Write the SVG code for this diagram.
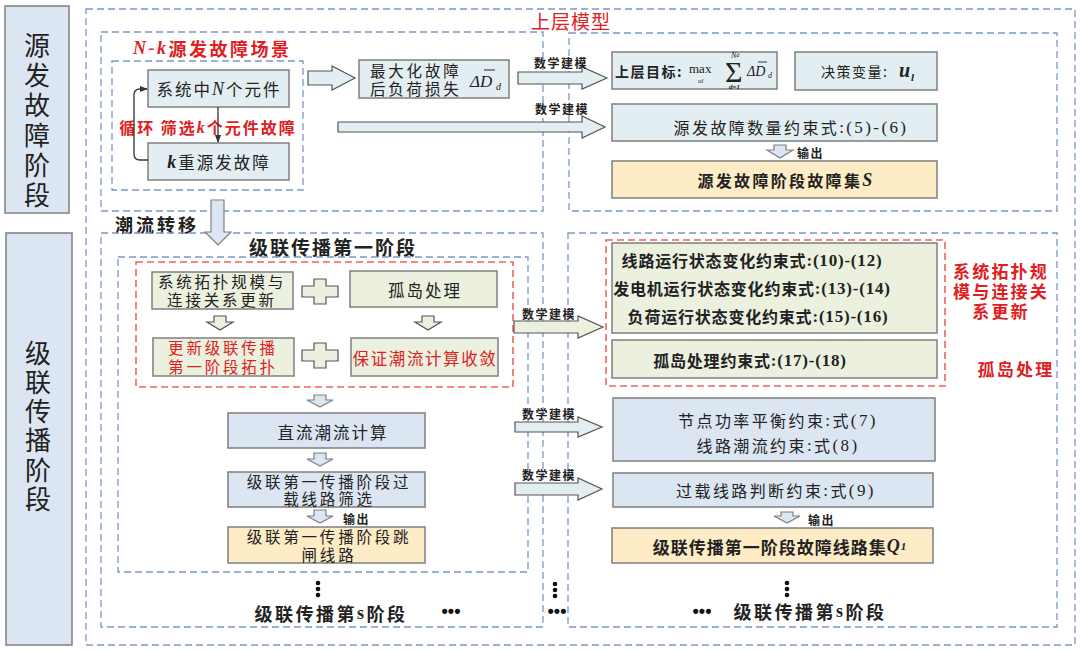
<svg xmlns="http://www.w3.org/2000/svg" width="1080" height="651" viewBox="0 0 1080 651">
<style>
text{font-family:"Noto Sans CJK SC","Liberation Sans",sans-serif;fill:#222;dominant-baseline:central}
.c{text-anchor:middle}
.red{fill:#e0201e}
.b{font-weight:bold}
.s{font-family:"Liberation Serif","Noto Sans CJK SC",serif}
.i{font-style:italic}
.dots{font-family:"Liberation Sans",sans-serif;font-weight:bold;font-size:18px;fill:#111}
.stage{fill:#dce6f2;stroke:#7f7f7f;stroke-width:1.5}
.bd{fill:none;stroke:#7b96c8;stroke-width:1.3;stroke-dasharray:7 4}
.rd{fill:none;stroke:#f0645a;stroke-width:1.6;stroke-dasharray:7 4}
.cy{fill:#e2eef1;stroke:#7f7f7f;stroke-width:1.5}
.bl{fill:#dce6f2;stroke:#7f7f7f;stroke-width:1.5}
.gr{fill:#ebf1de;stroke:#7f7f7f;stroke-width:1.5}
.ye{fill:#fdecc6;stroke:#7f7f7f;stroke-width:1.5}
.ar{fill:#e2eef1;stroke:#555;stroke-width:1.2}
.arg{fill:#ebf1de;stroke:#555;stroke-width:1.2}
.arb{fill:#dce6f2;stroke:#7f7f7f;stroke-width:1.2}
.one{font-size:16.5px;letter-spacing:2px}
.two{font-size:15.5px;letter-spacing:2.8px}
.con{font-size:16px;letter-spacing:2.4px}
.lab{font-size:12px;font-weight:bold;letter-spacing:1.5px}
</style>
<defs>
<marker id="ah" viewBox="0 0 10 10" refX="9" refY="5" markerWidth="6" markerHeight="6" orient="auto"><path d="M0,1 L10,5 L0,9 z" fill="#333"/></marker>
</defs>

<!-- stage labels -->
<g id="stage1">
<rect class="stage" x="5" y="6" width="64" height="207"/>
<text class="c" font-size="26" x="37" y="43">源</text>
<text class="c" font-size="26" x="37" y="73">发</text>
<text class="c" font-size="26" x="37" y="103">故</text>
<text class="c" font-size="26" x="37" y="133">障</text>
<text class="c" font-size="26" x="37" y="163">阶</text>
<text class="c" font-size="26" x="37" y="193">段</text>
</g>
<g id="stage2">
<rect class="stage" x="6" y="233" width="66" height="412"/>
<text class="c" font-size="26" x="38" y="351">级</text>
<text class="c" font-size="26" x="38" y="380">联</text>
<text class="c" font-size="26" x="38" y="409">传</text>
<text class="c" font-size="26" x="38" y="438">播</text>
<text class="c" font-size="26" x="38" y="468">阶</text>
<text class="c" font-size="26" x="38" y="497">段</text>
</g>

<!-- containers -->
<g id="containers">
<rect class="bd" x="86" y="9" width="989" height="636"/>
<text class="c red" font-size="19" x="571" y="20" letter-spacing="1">上层模型</text>
<rect class="bd" x="101" y="32" width="442" height="179"/>
<text x="133" y="48" font-size="18" class="b red" letter-spacing="2.5"><tspan class="s i">N-k</tspan>源发故障场景</text>
<rect class="bd" x="112" y="61" width="191" height="129"/>
<rect class="bd" x="569" y="33" width="488" height="178"/>
<text x="115" y="224" font-size="18" class="b" letter-spacing="3">潮流转移</text>
<rect class="bd" x="101" y="233" width="442" height="394"/>
<text class="c b" x="333" y="246" font-size="19" letter-spacing="2">级联传播第一阶段</text>
<rect class="bd" x="118" y="257" width="410" height="315"/>
<rect class="rd" x="136" y="262" width="377" height="125"/>
<rect class="bd" x="568" y="233" width="489" height="394"/>
<rect class="rd" x="606" y="240" width="339" height="146"/>
<text class="c red b" font-size="17" letter-spacing="2.2" x="1001" y="270">系统拓扑规</text>
<text class="c red b" font-size="17" letter-spacing="2.2" x="1001" y="290">模与连接关</text>
<text class="c red b" font-size="17" letter-spacing="2.2" x="1001" y="310">系更新</text>
<text class="c red b" font-size="17" letter-spacing="2.2" x="1016" y="368">孤岛处理</text>
</g>

<!-- N-k nodes -->
<g id="n_components">
<rect class="cy" x="148" y="70" width="141" height="37"/>
<text class="c one" x="219" y="89" fill="#333" letter-spacing="1">系统中<tspan class="s i" font-size="18">N</tspan>个元件</text>
</g>
<g id="n_kfault">
<rect class="cy" x="148" y="143" width="141" height="37"/>
<text class="c one" x="219" y="162" letter-spacing="1.5"><tspan class="s i b" font-size="18">k</tspan>重源发故障</text>
</g>
<g id="n_loop_label">
<text class="c red b" font-size="16" letter-spacing="2" x="208" y="127">循环 筛选<tspan class="s i">k</tspan>个元件故障</text>
</g>
<g id="n_maxloss">
<rect class="cy" x="359" y="60" width="150" height="38"/>
<text class="two" x="370" y="70" letter-spacing="2.5">最大化故障</text>
<text class="two" x="370" y="88" letter-spacing="2.5">后负荷损失</text>
<text class="s i" font-size="17" x="470" y="81">ΔD</text>
<line x1="484" y1="70" x2="495" y2="70" stroke="#222" stroke-width="1"/>
<text class="s i" font-size="10" x="496" y="86">d</text>
</g>
<g id="n_objective">
<rect class="cy" x="612" y="52" width="165" height="37"/>
<text class="b" font-size="14" letter-spacing="1.5" x="615" y="71">上层目标:</text>
<text class="s" font-size="13" x="689" y="68">max</text>
<text class="s i" font-size="7" x="698" y="81">ul</text>
<text class="s" font-size="30" x="725" y="71">Σ</text>
<text class="s i" font-size="8" x="731" y="55">N<tspan font-size="6">d</tspan></text>
<text class="s i b" font-size="7" x="729" y="87">d=1</text>
<text class="s i" font-size="14" x="747" y="71">ΔD</text>
<line x1="758" y1="62" x2="767" y2="62" stroke="#222" stroke-width="0.9"/>
<text class="s i" font-size="8" x="768" y="75">d</text>
</g>
<g id="n_decision">
<rect class="cy" x="795" y="52" width="142" height="38"/>
<text font-size="14" letter-spacing="1.5" x="821" y="71">决策变量:</text>
<text class="s i b" font-size="20" x="899" y="70">u</text>
<text class="s i b" font-size="11" x="911" y="77">l</text>
</g>
<g id="n_count">
<rect class="cy" x="612" y="104" width="325" height="37"/>
<text class="c con" x="791" y="127" letter-spacing="2">源发故障数量约束式<tspan class="s" font-size="17">:(5)-(6)</tspan></text>
</g>
<g id="n_setS">
<rect class="ye" x="612" y="161" width="325" height="37"/>
<text class="c b" font-size="16" letter-spacing="2.3" x="786" y="180">源发故障阶段故障集<tspan class="s i" font-size="18">S</tspan></text>
</g>

<!-- cascade stage nodes -->
<g id="n_topo">
<rect class="gr" x="152" y="272" width="141" height="37"/>
<text class="c two" x="222" y="281">系统拓扑规模与</text>
<text class="c two" x="222" y="299">连接关系更新</text>
</g>
<g id="n_island">
<rect class="gr" x="350" y="271" width="147" height="36"/>
<text class="c one" x="425" y="290">孤岛处理</text>
</g>
<g id="n_update">
<rect class="gr" x="153" y="338" width="141" height="38"/>
<text class="c two red" x="223" y="347">更新级联传播</text>
<text class="c two red" x="223" y="366">第一阶段拓扑</text>
</g>
<g id="n_converge">
<rect class="gr" x="351" y="338" width="147" height="38"/>
<text class="c red" font-size="16.5" letter-spacing="1.6" x="425" y="358">保证潮流计算收敛</text>
</g>
<g id="n_dcflow">
<rect class="bl" x="228" y="413" width="197" height="35"/>
<text class="c one" x="333" y="432" fill="#333">直流潮流计算</text>
</g>
<g id="n_overload">
<rect class="bl" x="228" y="472" width="197" height="35"/>
<text class="c two" x="329" y="481" fill="#333">级联第一传播阶段过</text>
<text class="c two" x="329" y="498" fill="#333">载线路筛选</text>
</g>
<g id="n_trip">
<rect class="ye" x="228" y="527" width="197" height="36"/>
<text class="c two" x="329" y="536" fill="#333">级联第一传播阶段跳</text>
<text class="c two" x="329" y="554" fill="#333">闸线路</text>
</g>

<g id="n_stateconst">
<rect class="gr" x="612" y="243" width="325" height="90"/>
<text class="c b" font-size="16" letter-spacing="0.8" x="752" y="260">线路运行状态变化约束式<tspan class="s" font-size="17">:(10)-(12)</tspan></text>
<text class="c b" font-size="16" letter-spacing="0.8" x="752" y="288">发电机运行状态变化约束式<tspan class="s" font-size="17">:(13)-(14)</tspan></text>
<text class="c b" font-size="16" letter-spacing="0.8" x="758" y="316">负荷运行状态变化约束式<tspan class="s" font-size="17">:(15)-(16)</tspan></text>
</g>
<g id="n_islandconst">
<rect class="gr" x="612" y="340" width="325" height="38"/>
<text class="c b" font-size="16" letter-spacing="0.8" x="750" y="360">孤岛处理约束式<tspan class="s" font-size="17">:(17)-(18)</tspan></text>
</g>
<g id="n_balance">
<rect class="bl" x="613" y="398" width="322" height="63"/>
<text class="c con" x="778" y="420">节点功率平衡约束<tspan class="s" font-size="17">:</tspan>式<tspan class="s" font-size="17">(7)</tspan></text>
<text class="c con" x="778" y="445">线路潮流约束<tspan class="s" font-size="17">:</tspan>式<tspan class="s" font-size="17">(8)</tspan></text>
</g>
<g id="n_overjudge">
<rect class="bl" x="613" y="473" width="320" height="34"/>
<text class="c con" x="776" y="490">过载线路判断约束<tspan class="s" font-size="17">:</tspan>式<tspan class="s" font-size="17">(9)</tspan></text>
</g>
<g id="n_setQ">
<rect class="ye" x="612" y="528" width="321" height="35"/>
<text class="c b" font-size="17" letter-spacing="1" x="780" y="546">级联传播第一阶段故障线路集<tspan class="s i" font-size="18">Q</tspan><tspan class="s i" font-size="11">1</tspan></text>
</g>

<g id="n_stage_s_left">
<text class="c b" font-size="18" letter-spacing="2.5" x="331" y="613">级联传播第<tspan class="s">s</tspan>阶段</text>
<text class="c dots" x="451" y="611">•••</text>
</g>
<g id="n_stage_s_right">
<text class="c dots" x="702" y="611">•••</text>
<text class="c b" font-size="18" letter-spacing="2.5" x="810" y="611">级联传播第<tspan class="s">s</tspan>阶段</text>
</g>

<!-- connectors -->
<g id="connectors">
<line x1="218" y1="107" x2="218" y2="142" stroke="#333" stroke-width="1.3" marker-end="url(#ah)"/>
<path d="M148,160 H140 Q134,160 134,154 V95 Q134,89 140,89 H147" fill="none" stroke="#333" stroke-width="1.3" marker-end="url(#ah)"/>

<polygon class="ar" points="308,71 332,71 332,66 355,78 332,90 332,85 308,85"/>
<polygon class="ar" points="518,72 582,72 582,67 607,78 582,89 582,84 518,84"/>
<text class="c lab" x="561" y="62">数学建模</text>
<polygon class="ar" points="338,122 582,122 582,116 605,127 582,138 582,132 338,132"/>
<text class="c lab" x="562" y="108">数学建模</text>
<polygon class="arb" points="774,145 786,145 786,150 793,150 780,158 767,150 774,150"/>
<text class="lab" x="797" y="152">输出</text>

<polygon class="arb" points="211,200 224,200 224,232 231,232 218,245 205,232 211,232"/>

<polygon class="arg" points="214,316 226,316 226,322 233,322 220,330 207,322 214,322"/>
<polygon class="arg" points="422,316 434,316 434,322 441,322 428,330 415,322 422,322"/>
<g class="arg">
<path d="M314,279 H326 V286 H338 V297 H326 V304 H314 V297 H302 V286 H314 Z"/>
<path d="M314,343 H326 V350 H338 V361 H326 V368 H314 V361 H302 V350 H314 Z"/>
</g>
<polygon class="arb" points="314,395 326,395 326,400 333,400 320,407 307,400 314,400"/>
<polygon class="arb" points="314,453 326,453 326,459 333,459 320,466 307,459 314,459"/>
<polygon class="arb" points="314,510 326,510 326,516 333,516 320,523 307,516 314,516"/>
<text class="lab" x="343" y="518">输出</text>

<polygon class="arg" points="514,321 578,321 578,316 603,327 578,338 578,333 514,333"/>
<text class="c lab" x="549" y="313">数学建模</text>
<polygon class="ar" points="515,422 578,422 578,417 602,427 578,437 578,432 515,432"/>
<text class="c lab" x="549" y="413">数学建模</text>
<polygon class="ar" points="515,483 578,483 578,478 602,489 578,500 578,495 515,495"/>
<text class="c lab" x="549" y="474">数学建模</text>
<polygon class="arb" points="781,512 793,512 793,516 800,516 787,523 774,516 781,516"/>
<text class="lab" x="808" y="519">输出</text>

<g fill="#111">
<circle cx="318" cy="583" r="2.3"/><circle cx="318" cy="589" r="2.3"/><circle cx="318" cy="595" r="2.3"/>
<circle cx="555" cy="584" r="2.3"/><circle cx="555" cy="590" r="2.3"/><circle cx="555" cy="596" r="2.3"/>
<circle cx="787" cy="583" r="2.3"/><circle cx="787" cy="589" r="2.3"/><circle cx="787" cy="595" r="2.3"/>
</g>
<text class="c dots" x="557" y="611">•••</text>
</g>
</svg>
